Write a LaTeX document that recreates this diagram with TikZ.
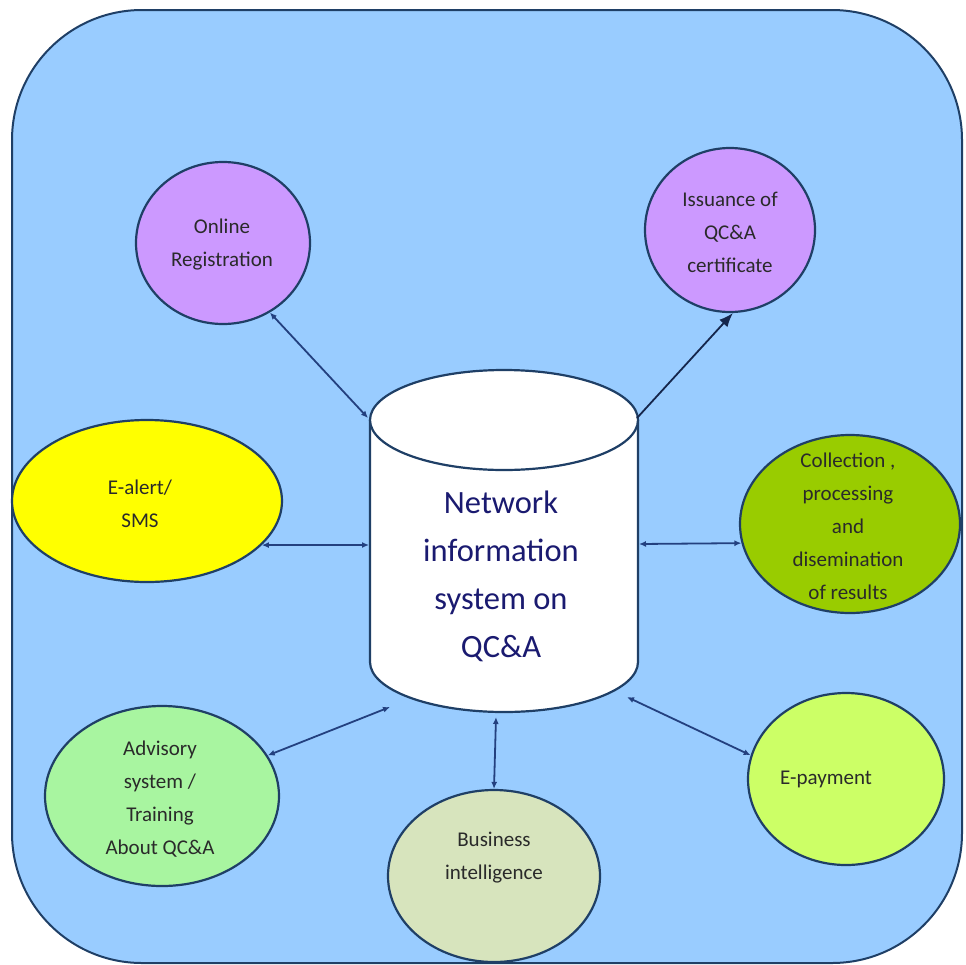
\documentclass[tikz,border=0pt]{standalone}
\usepackage{fontspec}
\setmainfont{Carlito}
\usetikzlibrary{shapes.geometric,arrows.meta}
\definecolor{bgblue}{HTML}{99CCFF}
\definecolor{edge}{HTML}{1F3F66}
\definecolor{arrowc}{HTML}{23407F}
\definecolor{purp}{HTML}{CC99FF}
\definecolor{yell}{HTML}{FFFF00}
\definecolor{olive}{HTML}{99CC00}
\definecolor{lgreen}{HTML}{A8F5A0}
\definecolor{sage}{HTML}{D7E4BD}
\definecolor{lime}{HTML}{CCFF66}
\definecolor{navytext}{HTML}{1A1A70}
\definecolor{txt}{HTML}{2A2A2A}
\tikzset{
  bubble/.style={ellipse, draw=edge, line width=2.2pt, inner sep=0pt},
  btext/.style={align=center, text=txt, font=\fontsize{21}{33}\selectfont},
  link/.style={draw=arrowc, line width=1.8pt, {Latex[length=7pt,width=6pt]}-{Latex[length=7pt,width=6pt]}},
  oneway/.style={draw=arrowc!60!black, line width=1.8pt, -{Latex[length=14pt,width=11pt]}},
}
\begin{document}
\begin{tikzpicture}[x=1pt,y=-1pt]
\useasboundingbox (0,0) rectangle (966,964);
% background
\draw[fill=bgblue, draw=edge, line width=2pt, rounded corners=130pt] (12,10) rectangle (962,963);
% ellipses
\node[bubble, fill=purp, minimum width=174pt, minimum height=162pt] (online) at (223,243) {};
\node[bubble, fill=purp, minimum width=170pt, minimum height=164pt] (issue) at (730,230) {};
\node[bubble, fill=yell, minimum width=270pt, minimum height=162pt] (ealert) at (147,501) {};
\node[bubble, fill=olive, minimum width=220pt, minimum height=178pt] (collect) at (850,524) {};
\node[bubble, fill=lgreen, minimum width=234pt, minimum height=180pt] (advis) at (162,796) {};
\node[bubble, fill=sage, minimum width=212pt, minimum height=172pt] (busi) at (494,876) {};
\node[bubble, fill=lime, minimum width=196pt, minimum height=172pt] (epay) at (846,779) {};
% texts
\node[btext] (tonline) at (222,245) {Online\\Registration};
\node[btext] (tissue) at (730,232) {Issuance of\\QC\&A\\certificate};
\node[btext] (tealert) at (140,504) {E-alert/\\SMS};
\node[btext] (tcollect) at (848,526) {Collection ,\\processing\\and\\disemination\\of results};
\node[btext] (tadvis) at (160,799) {Advisory\\system /\\Training\\About QC\&A};
\node[btext] (tbusi) at (494,858) {Business\\intelligence};
\node[btext] (tepay) at (826,779) {E-payment};
% cylinder
\draw[edge, line width=2.2pt, fill=white] (370,420) -- (370,662) arc[start angle=180, end angle=0, x radius=134, y radius=50] -- (638,420);
\draw[edge, line width=2.2pt, fill=white] (504,420) ellipse[x radius=134, y radius=50];
\node[align=center, text=navytext, font=\fontsize{32.5}{48}\selectfont] (cyl) at (501,576) {Network\\information\\system on\\QC\&A};
% connector end points on the cylinder
\coordinate (cOR) at (368,418);
\coordinate (cIS) at (637,418);
\coordinate (cEA) at (369,545);
\coordinate (cCO) at (639,544);
\coordinate (cAD) at (390,707);
\coordinate (cBU) at (496,717);
\coordinate (cEP) at (627,697);
% connectors
\draw[link] (online.-56) -- (cOR);
\draw[oneway] (cIS) -- (issue.-88);
\draw[link] (ealert.-21.2) -- (cEA);
\draw[link] (collect.190.7) -- (cCO);
\draw[link] (advis.21) -- (cAD);
\draw[link] (busi.north) -- (cBU);
\draw[link] (epay.166) -- (cEP);
\end{tikzpicture}
\end{document}
